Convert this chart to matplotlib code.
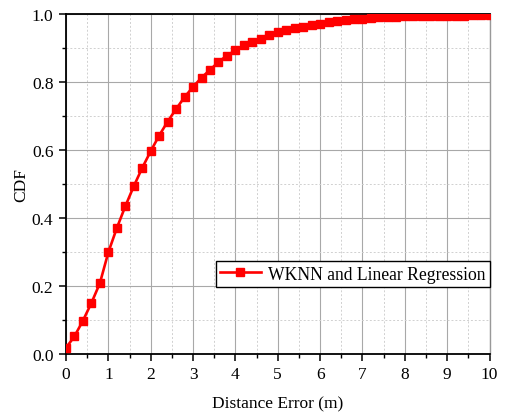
import matplotlib
matplotlib.use("Agg")
import matplotlib.pyplot as plt
from matplotlib.ticker import MultipleLocator

plt.rcParams['font.family'] = ['Liberation Serif', 'DejaVu Serif']

x_vals = [0.0, 0.2, 0.4, 0.6, 0.8, 1.0, 1.2, 1.4, 1.6, 1.8,
          2.0, 2.2, 2.4, 2.6, 2.8, 3.0, 3.2, 3.4, 3.6, 3.8,
          4.0, 4.2, 4.4, 4.6, 4.8, 5.0, 5.2, 5.4, 5.6, 5.8,
          6.0, 6.2, 6.4, 6.6, 6.8, 7.0, 7.2, 7.4, 7.6, 7.8,
          8.0, 8.2, 8.4, 8.6, 8.8, 9.0, 9.2, 9.4, 9.6, 9.8, 10.0]
cdf_vals = [0.018, 0.052, 0.098, 0.150, 0.208, 0.299, 0.370, 0.434, 0.493, 0.547,
            0.596, 0.642, 0.683, 0.720, 0.755, 0.785, 0.812, 0.835, 0.858, 0.877,
            0.892, 0.907, 0.917, 0.927, 0.936, 0.945, 0.951, 0.958, 0.962, 0.967,
            0.971, 0.975, 0.978, 0.981, 0.983, 0.985, 0.987, 0.989, 0.990, 0.991,
            0.992, 0.992, 0.993, 0.993, 0.993, 0.994, 0.994, 0.994, 0.995, 0.995, 0.995]
series_label = "WKNN and Linear Regression"

fig = plt.figure(figsize=(5.07, 4.14), dpi=100)
ax = fig.add_axes([66/507, 1-355/414, (489.5-66)/507, (355-14.7)/414])

ax.plot(x_vals, cdf_vals, color='#ff0000', lw=1.9, marker='s', markersize=5.4,
        label=series_label, zorder=3, clip_on=True)

ax.set_xlim(0, 10)
ax.set_ylim(0, 1.0)
ax.xaxis.set_major_locator(MultipleLocator(1))
ax.xaxis.set_minor_locator(MultipleLocator(0.5))
ax.yaxis.set_major_locator(MultipleLocator(0.2))
ax.yaxis.set_minor_locator(MultipleLocator(0.1))
ax.yaxis.set_major_formatter(plt.FormatStrFormatter('%.1f'))

ax.grid(which='major', color='#a8a8a8', lw=0.8, ls='-')
ax.grid(which='minor', color='#d0d0d0', lw=0.7, ls=(0, (2, 2)))
ax.set_axisbelow(True)

for s in ['left', 'bottom', 'top']:
    ax.spines[s].set_color('black')
    ax.spines[s].set_linewidth(1.3)
ax.spines['right'].set_color('#999999')
ax.spines['right'].set_linewidth(1.0)

ax.tick_params(which='major', direction='out', length=5, width=1.1, labelsize=12.5,
               top=False, right=False, pad=4)
ax.tick_params(which='minor', direction='out', length=3, width=1.0, top=False, right=False)

ax.set_xlabel('Distance Error (m)', fontsize=12.5, labelpad=9)
ax.set_ylabel('CDF', fontsize=12.5, labelpad=2)

leg = ax.legend(loc='center right', bbox_to_anchor=(1.0, 0.235), fontsize=12.7,
                frameon=True, fancybox=False, edgecolor='black', framealpha=1,
                handlelength=2.3, borderpad=0.25, handletextpad=0.4, borderaxespad=0)
leg.get_frame().set_linewidth(1.0)

fig.savefig('out.png', dpi=100)
